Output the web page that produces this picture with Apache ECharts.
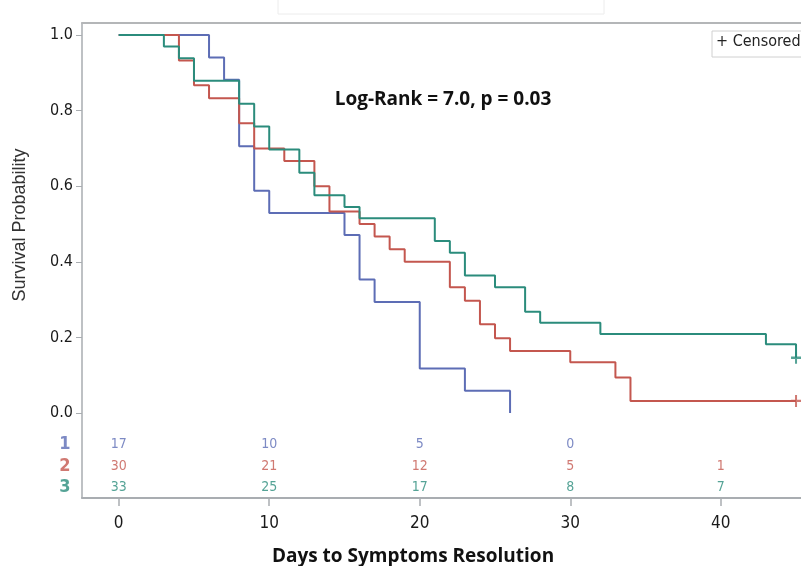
<!DOCTYPE html>
<html>
<head>
<meta charset="utf-8">
<script src="https://cdn.jsdelivr.net/npm/echarts@6/dist/echarts.min.js"></script>
<style>
  html, body { margin: 0; padding: 0; background: #fff; }
  #main { width: 801px; height: 566px; }
</style>
</head>
<body>
<div id="main"></div>
<script>
// Kaplan-Meier steps per group: [day, survival probability]
const group1 = [[0, 1], [6, 0.941], [7, 0.882], [8, 0.706], [9, 0.588], [10, 0.529],
  [15, 0.471], [16, 0.353], [17, 0.294], [20, 0.118], [23, 0.059], [26, 0]];
const group2 = [[0, 1], [4, 0.933], [5, 0.867], [6, 0.833], [8, 0.767], [9, 0.7],
  [11, 0.667], [13, 0.6], [14, 0.533], [16, 0.5], [17, 0.467], [18, 0.433], [19, 0.4],
  [22, 0.333], [23, 0.297], [24, 0.235], [25, 0.198], [26, 0.164], [30, 0.134],
  [33, 0.094], [34, 0.032], [45, 0.032]];
const group3 = [[0, 1], [3, 0.97], [4, 0.939], [5, 0.879], [8, 0.818], [9, 0.758],
  [10, 0.697], [12, 0.636], [13, 0.576], [15, 0.545], [16, 0.515], [21, 0.455],
  [22, 0.424], [23, 0.364], [25, 0.333], [27, 0.268], [28, 0.239], [32, 0.209],
  [43, 0.182], [45, 0.146]];

// censored observations
const censored2 = [[45, 0.032]];
const censored3 = [[45, 0.146]];

// numbers at risk
const riskDays = [0, 10, 20, 30, 40];
const atRisk1 = [17, 10, 5, 0, null];
const atRisk2 = [30, 21, 12, 5, 1];
const atRisk3 = [33, 25, 17, 8, 7];
const groupNames = ["1", "2", "3"];

const xTicks = [0, 10, 20, 30, 40];
const yTicks = [0, 0.2, 0.4, 0.6, 0.8, 1.0];

const colors = ["#5d6db5", "#c4574f", "#2b8c7c"];
const rowY = [-0.082, -0.14, -0.196]; // table rows, in y units below 0
const rowLabelX = -3.58;
const narrow = "'DejaVu Sans Condensed', 'Liberation Sans Narrow', 'Arial Narrow', sans-serif";

var chart = echarts.init(document.getElementById("main"));

function kmSeries(name, data, color) {
  return {
    name: name,
    type: "line",
    step: "end",
    data: data,
    symbol: "none",
    lineStyle: { color: color, width: 2 },
    z: 3
  };
}

function censorSeries(data, color) {
  return {
    type: "scatter",
    data: data,
    symbol: "path://M4,0 L6,0 L6,4 L10,4 L10,6 L6,6 L6,10 L4,10 L4,6 L0,6 L0,4 L4,4 Z",
    symbolSize: [10, 12],
    itemStyle: { color: color },
    clip: false,
    z: 4
  };
}

function riskSeries(values, row, color) {
  var pts = [];
  values.forEach(function (v, i) {
    if (v !== null) pts.push({ value: [riskDays[i], rowY[row]], count: v });
  });
  return {
    type: "scatter",
    data: pts,
    symbolSize: 1,
    itemStyle: { color: "rgba(0,0,0,0)" },
    label: {
      show: true,
      position: "inside",
      formatter: function (p) { return String(p.data.count); },
      color: color,
      fontSize: 14,
      fontFamily: narrow
    },
    silent: true,
    clip: false
  };
}

var rowLabels = {
  type: "scatter",
  data: groupNames.map(function (g, i) {
    return {
      value: [rowLabelX, rowY[i]],
      label: { color: colors[i] }
    };
  }),
  symbolSize: 1,
  itemStyle: { color: "rgba(0,0,0,0)" },
  label: {
    show: true,
    position: "inside",
    formatter: function (p) { return groupNames[p.dataIndex]; },
    fontSize: 18,
    fontWeight: "bold",
    fontFamily: narrow
  },
  silent: true,
  clip: false
};

var option = {
  animation: false,
  grid: { left: 82, right: 0, top: 23, bottom: 68, outerBoundsMode: "none" },
  xAxis: [
    {
      type: "value",
      min: -2.44,
      max: 45.33,
      axisLine: { onZero: false, lineStyle: { color: "#a9adb1", width: 2 } },
      axisTick: { show: true, customValues: xTicks, length: 8, lineStyle: { color: "#a9adb1", width: 1.5 } },
      axisLabel: {
        customValues: xTicks,
        fontSize: 17,
        margin: 17,
        color: "#1a1a1a",
        fontFamily: narrow
      },
      splitLine: { show: false }
    },
    {
      type: "value",
      position: "top",
      min: -2.44,
      max: 45.33,
      axisLine: { show: true, onZero: false, lineStyle: { color: "#b4b6b8", width: 2 } },
      axisTick: { show: false },
      axisLabel: { show: false },
      splitLine: { show: false }
    }
  ],
  yAxis: {
    type: "value",
    min: -0.225,
    max: 1.032,
    axisLine: { show: true, onZero: false, lineStyle: { color: "#a9adb1", width: 1.5 } },
    axisTick: { show: true, customValues: yTicks, length: 6, lineStyle: { color: "#a9adb1" } },
    axisLabel: {
      customValues: yTicks,
      formatter: function (v) { return v.toFixed(1); },
      fontSize: 16,
      margin: 9,
      color: "#1a1a1a",
      fontFamily: narrow
    },
    splitLine: { show: false }
  },
  graphic: [
    {
      type: "rect",
      shape: { x: 278, y: -2, width: 326, height: 16 },
      style: { fill: "none", stroke: "#ececec", lineWidth: 1 }
    },
    {
      type: "rect",
      shape: { x: 712, y: 31, width: 95, height: 26 },
      style: { fill: "#fff", stroke: "#d0d0d0", lineWidth: 1 }
    },
    {
      type: "text",
      left: 716,
      top: 34,
      style: { text: "+ Censored", fontSize: 16, fill: "#222", fontFamily: narrow }
    },
    {
      type: "text",
      x: 443,
      y: 100,
      style: {
        text: "Log-Rank = 7.0, p = 0.03", fontSize: 19, fontWeight: "bold", fill: "#111",
        fontFamily: "'Open Sans', sans-serif", align: "center", verticalAlign: "middle"
      }
    },
    {
      type: "text",
      x: 20,
      y: 225,
      rotation: Math.PI / 2,
      style: {
        text: "Survival Probability", fontSize: 18, fill: "#333",
        fontFamily: "'Liberation Sans', Arial, sans-serif", align: "center", verticalAlign: "middle"
      }
    },
    {
      type: "text",
      x: 413,
      y: 557,
      style: {
        text: "Days to Symptoms Resolution", fontSize: 19, fontWeight: "bold", fill: "#111",
        fontFamily: "'Open Sans', sans-serif", align: "center", verticalAlign: "middle"
      }
    }
  ],
  series: [
    kmSeries("1", group1, colors[0]),
    kmSeries("2", group2, colors[1]),
    kmSeries("3", group3, colors[2]),
    censorSeries(censored2, colors[1]),
    censorSeries(censored3, colors[2]),
    riskSeries(atRisk1, 0, colors[0]),
    riskSeries(atRisk2, 1, colors[1]),
    riskSeries(atRisk3, 2, colors[2]),
    rowLabels
  ]
};

chart.setOption(option);
</script>
</body>
</html>
